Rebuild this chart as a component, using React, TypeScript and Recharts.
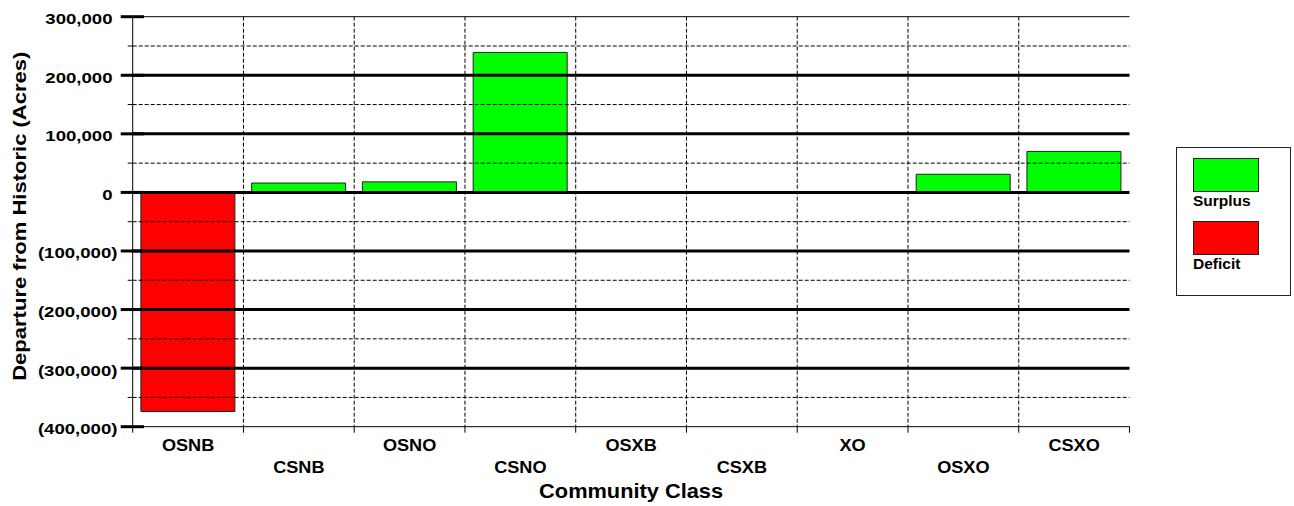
import {
  BarChart,
  Bar,
  XAxis,
  YAxis,
  CartesianGrid,
  ReferenceLine,
  Legend,
  Label,
} from 'recharts';

const categories = ['OSNB', 'CSNB', 'OSNO', 'CSNO', 'OSXB', 'CSXB', 'XO', 'OSXO', 'CSXO'];
const surplus = [0, 16000, 18000, 239000, 0, 0, 0, 31000, 70000];
const deficit = [-374000, 0, 0, 0, 0, 0, 0, 0, 0];
const seriesNames = ['Surplus', 'Deficit'];
const majorTicks = [300000, 200000, 100000, 0, -100000, -200000, -300000, -400000];
const minorTicks = [250000, 150000, 50000, -50000, -150000, -250000, -350000];

const W = 1294;
const H = 506;
const MARGIN = { top: 16.7, right: 164.5, bottom: 0, left: 0 };
const Y_W = 132.7;
const X_H = 79.3;
const PLOT_W = W - MARGIN.left - MARGIN.right - Y_W;
const FONT = 'Arial, "Liberation Sans", sans-serif';

const chartData = categories.map((name, i) => ({
  name,
  surplus: surplus[i],
  deficit: deficit[i],
}));

const fmt = (v: number) =>
  v < 0 ? `(${Math.abs(v).toLocaleString('en-US')})` : v.toLocaleString('en-US');

// the original font is wider than Arial, so text gets a horizontal stretch
function WideText({ x, y, k, size, anchor, rotate = 0, children }: any) {
  return (
    <text
      transform={`translate(${x} ${y}) rotate(${rotate}) scale(${k} 1)`}
      textAnchor={anchor}
      fontSize={size}
      fontWeight="bold"
      fontFamily={FONT}
      fill="#000"
    >
      {children}
    </text>
  );
}

function YTick({ x, y, payload }: any) {
  const v = payload.value as number;
  if (majorTicks.includes(v)) {
    const neg = v < 0;
    return (
      <g>
        <line x1={x - 12} x2={x + 11.3} y1={y} y2={y} stroke="#000" strokeWidth={3} />
        <WideText x={neg ? x - 15.2 : x - 20.2} y={y + 7.5} k={1.2} size={15.5} anchor="end">
          {fmt(v)}
        </WideText>
      </g>
    );
  }
  return <line x1={x - 5} x2={x} y1={y} y2={y} stroke="#000" strokeWidth={1} />;
}

function XTick({ x, y, payload, index }: any) {
  const band = PLOT_W / categories.length;
  const row = index % 2 === 0 ? 24 : 46;
  return (
    <g>
      {index === 0 && (
        <line x1={x - band / 2} x2={x - band / 2} y1={y} y2={y + 6} stroke="#000" />
      )}
      <line x1={x + band / 2} x2={x + band / 2} y1={y} y2={y + 6} stroke="#000" />
      <WideText x={x} y={y + row} k={1.1} size={16.5} anchor="middle">
        {payload.value}
      </WideText>
    </g>
  );
}

function XTitle({ viewBox }: any) {
  const { x, y, width, height } = viewBox;
  return (
    <WideText x={x + width / 2} y={y + height - 8.5} k={1.09} size={20} anchor="middle">
      Community Class
    </WideText>
  );
}

function YTitle({ viewBox }: any) {
  const { y, height } = viewBox;
  return (
    <WideText x={26} y={y + height / 2 - 5.5} k={1.16} size={19} anchor="middle" rotate={-90}>
      Departure from Historic (Acres)
    </WideText>
  );
}

function LegendBox({ payload }: any) {
  const items = [...(payload || [])].sort(
    (a: any, b: any) => seriesNames.indexOf(a.value) - seriesNames.indexOf(b.value),
  );
  return (
    <div
      style={{
        width: 115,
        height: 149,
        border: '1px solid #222',
        boxSizing: 'border-box',
        position: 'relative',
        background: '#fff',
        fontFamily: FONT,
      }}
    >
      {items.map((p: any, i: number) => (
        <div key={p.value} style={{ position: 'absolute', left: 16, top: 10 + i * 63.4 }}>
          <div
            style={{
              width: 66,
              height: 34,
              background: p.color,
              border: '1px solid #222',
              boxSizing: 'border-box',
            }}
          />
          <div style={{ fontSize: 15.5, fontWeight: 'bold', lineHeight: '17px', color: '#000' }}>
            {p.value}
          </div>
        </div>
      ))}
    </div>
  );
}

export default function App() {
  return (
    <div style={{ position: 'absolute', left: 0, top: 0, width: W, height: H, background: '#fff' }}>
      <BarChart
        width={W}
        height={H}
        data={chartData}
        margin={MARGIN}
        stackOffset="sign"
        barCategoryGap="7.4%"
      >
        <CartesianGrid
          horizontal={false}
          stroke="#000"
          strokeDasharray="4 2"
          verticalCoordinatesGenerator={({ offset }: any) => {
            const left = offset?.left ?? MARGIN.left + Y_W;
            const width = offset?.width ?? PLOT_W;
            return categories.slice(1).map((_, i) => left + ((i + 1) * width) / categories.length);
          }}
        />
        <XAxis
          dataKey="name"
          height={X_H}
          interval={0}
          tickLine={false}
          tickSize={0}
          tickMargin={0}
          axisLine={{ stroke: '#000', strokeWidth: 1 }}
          tick={<XTick />}
        >
          <Label content={<XTitle />} />
        </XAxis>
        <YAxis
          width={Y_W}
          domain={[-400000, 300000]}
          ticks={[...majorTicks, ...minorTicks]}
          interval={0}
          tickLine={false}
          tickSize={0}
          tickMargin={0}
          axisLine={{ stroke: '#000', strokeWidth: 1 }}
          tick={<YTick />}
        >
          <Label content={<YTitle />} />
        </YAxis>
        <YAxis
          yAxisId="right"
          orientation="right"
          width={0}
          tick={false}
          tickLine={false}
          axisLine={{ stroke: '#000', strokeWidth: 1 }}
        />
        <Legend
          layout="vertical"
          align="center"
          verticalAlign="middle"
          content={<LegendBox />}
          wrapperStyle={{ left: 1176, top: 147, width: 115, height: 149 }}
        />
        <Bar
          dataKey="surplus"
          name="Surplus"
          stackId="a"
          fill="#00ff00"
          stroke="#222"
          strokeWidth={1}
          isAnimationActive={false}
        />
        <Bar
          dataKey="deficit"
          name="Deficit"
          stackId="a"
          fill="#ff0000"
          stroke="#222"
          strokeWidth={1}
          isAnimationActive={false}
        />
        {minorTicks.map((v) => (
          <ReferenceLine key={`m${v}`} y={v} stroke="#000" strokeDasharray="4 2" strokeWidth={1} />
        ))}
        {majorTicks
          .filter((v) => v !== 300000 && v !== -400000)
          .map((v) => (
            <ReferenceLine key={`M${v}`} y={v} stroke="#000" strokeWidth={3} />
          ))}
        <ReferenceLine y={300000} stroke="#000" strokeWidth={1} />
      </BarChart>
    </div>
  );
}
